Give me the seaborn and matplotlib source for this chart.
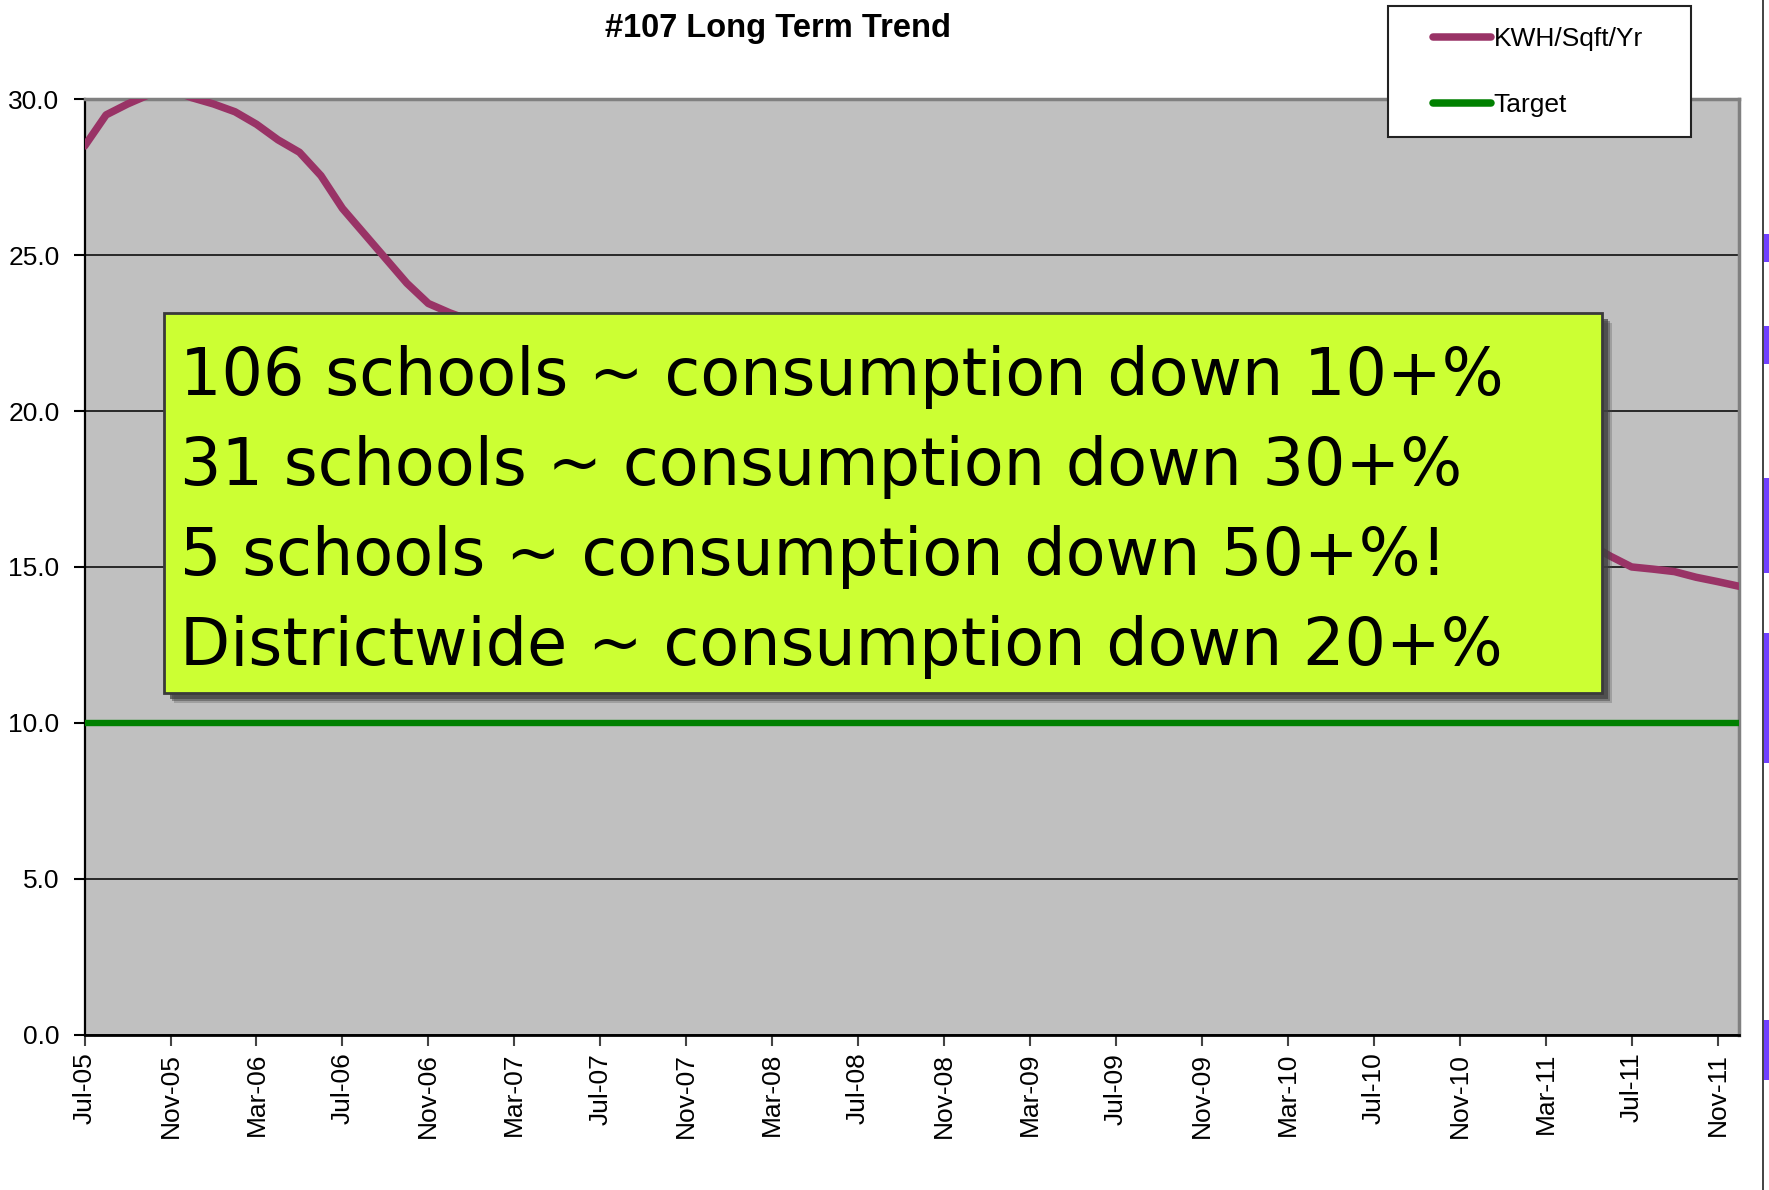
import numpy as np
import pandas as pd
import matplotlib
matplotlib.use("Agg")
import matplotlib.pyplot as plt
import seaborn as sns
from matplotlib.lines import Line2D
from matplotlib.patches import Rectangle

# monthly KWH/Sqft/Yr, Jul-05 .. Dec-11
kwh_2005 = [28.5, 29.5, 29.85, 30.15, 30.3, 30.05]
kwh_2006 = [29.85, 29.6, 29.2, 28.7, 28.3, 27.55, 26.5, 25.7, 24.9, 24.1, 23.45, 23.15]
kwh_2007 = [22.9, 22.7, 22.5, 22.3, 22.0, 21.8, 21.5, 21.3, 21.1, 20.9, 20.8, 20.6]
kwh_2008 = [20.5, 20.3, 20.2, 20.0, 19.8, 19.6, 19.4, 19.3, 19.1, 18.9, 18.8, 18.6]
kwh_2009 = [18.5, 18.4, 18.2, 18.1, 17.9, 17.8, 17.6, 17.5, 17.4, 17.3, 17.2, 17.1]
kwh_2010 = [17.0, 16.9, 16.9, 16.8, 16.7, 16.6, 16.5, 16.5, 16.4, 16.3, 16.3, 16.2]
kwh_2011 = [16.1, 16.0, 15.95, 15.85, 15.75, 15.35, 15.0, 14.93, 14.85, 14.67, 14.53, 14.38]
target = 10.0

kwh = kwh_2005 + kwh_2006 + kwh_2007 + kwh_2008 + kwh_2009 + kwh_2010 + kwh_2011
months = pd.date_range("2005-07-01", periods=len(kwh), freq="MS")
month_labels = [m.strftime("%b-%y") for m in months]

notes = ["106 schools ~ consumption down 10+%",
         "31 schools ~ consumption down 30+%",
         "5 schools ~ consumption down 50+%!",
         "Districtwide ~ consumption down 20+%"]

df = pd.DataFrame({"idx": np.arange(len(kwh)), "kwh": kwh,
                   "target": [target] * len(kwh)})

sns.set_style("white")
plt.rcParams["font.family"] = ["Liberation Sans", "DejaVu Sans"]
plt.rcParams["lines.solid_capstyle"] = "round"
plt.rcParams["text.color"] = "black"
plt.rcParams["xtick.color"] = "black"
plt.rcParams["ytick.color"] = "black"

W, H = 1769, 1190
fig = plt.figure(figsize=(W / 100, H / 100), dpi=100)


def fx(x):
    return x / W


def fy(y):
    return 1 - y / H


ax = fig.add_axes([fx(84.6), fy(1034.6), fx(1739) - fx(84.6), fy(99.3) - fy(1034.6)])
ax.set_facecolor("#C0C0C0")

sns.lineplot(data=df, x="idx", y="kwh", ax=ax, color="#993366", lw=5.4, zorder=3)
sns.lineplot(data=df, x="idx", y="target", ax=ax, color="#008000", lw=4.6, zorder=3)

ax.set_xlim(0, len(kwh) - 1)
ax.set_ylim(0, 30)
ax.set_yticks(np.arange(0, 31, 5))
ax.set_yticklabels([f"{v:.1f}" for v in np.arange(0, 31, 5)], fontsize=19)
ax.set_xticks(np.arange(0, len(kwh), 4))
ax.set_xticklabels(month_labels[::4], rotation=90, fontsize=19)
ax.set_xlabel("")
ax.set_ylabel("")
ax.yaxis.grid(True, color="black", lw=1.1)
ax.xaxis.grid(False)
ax.tick_params(axis="y", length=8, width=1.5, pad=10, left=True, color="black")
ax.tick_params(axis="x", length=8, width=1.5, pad=5, bottom=True, color="#444444")
ax.spines["left"].set_color("black")
ax.spines["left"].set_linewidth(1.6)
ax.spines["bottom"].set_color("black")
ax.spines["bottom"].set_linewidth(2)
for s in ["top", "right"]:
    ax.spines[s].set_color("#808080")
    ax.spines[s].set_linewidth(2.5)

fig.text(fx(778), fy(28), "#107 Long Term Trend", ha="center", va="center",
         fontsize=23.5, fontweight="bold")

# legend
fig.patches.append(Rectangle((fx(1388), fy(137)), fx(1691) - fx(1388), fy(6) - fy(137),
                             transform=fig.transFigure, facecolor="white",
                             edgecolor="#222222", lw=1.5, zorder=4))
handles = [Line2D([], [], color="#993366", lw=5.4),
           Line2D([], [], color="#008000", lw=5.4)]
fig.legend(handles, ["KWH/Sqft/Yr", "Target"], loc="center left",
           bbox_to_anchor=(fx(1433), fy(72)), frameon=False, fontsize=19,
           handlelength=2.2, handletextpad=0.1, labelspacing=1.6,
           borderpad=0, borderaxespad=0).set_zorder(5)

# annotation box with shadow
bx0, by0, bx1, by1 = 164, 313, 1602, 693
for off, a in [(10, 0.25), (8, 0.45), (6, 0.7)]:
    fig.patches.append(Rectangle((fx(bx0 + off), fy(by1 + off)), fx(bx1) - fx(bx0), fy(by0) - fy(by1),
                                 transform=fig.transFigure, facecolor="#404040",
                                 edgecolor="none", alpha=a, zorder=2))
fig.patches.append(Rectangle((fx(bx0), fy(by1)), fx(bx1) - fx(bx0), fy(by0) - fy(by1),
                             transform=fig.transFigure, facecolor="#CCFF33",
                             edgecolor="#3A3A3A", lw=2, zorder=3))
for i, line in enumerate(notes):
    fig.text(fx(180), fy(395 + 90 * i), line, ha="left", va="baseline",
             fontsize=47, family="DejaVu Sans", color="black", zorder=4)

# slide edge at the right
fig.add_artist(Line2D([fx(1763), fx(1763)], [0, 1], transform=fig.transFigure,
                      color="#222222", lw=1.2))
for y0, y1 in [(234, 262), (326, 364), (478, 573), (633, 763), (1020, 1080)]:
    fig.patches.append(Rectangle((fx(1764), fy(y1)), fx(1769) - fx(1764), fy(y0) - fy(y1),
                                 transform=fig.transFigure, facecolor="#7040FF",
                                 edgecolor="none", zorder=2))

fig.savefig("out.png", dpi=100, facecolor="white")
